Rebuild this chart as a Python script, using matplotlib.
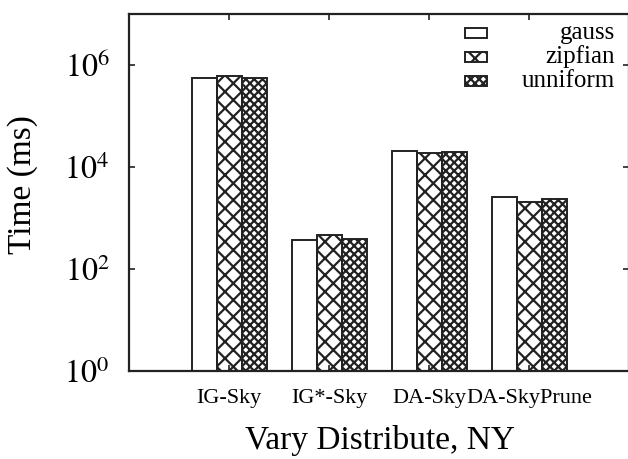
import matplotlib
matplotlib.use("Agg")
from matplotlib import pyplot as plt
from matplotlib.patches import Rectangle
import numpy as np

plt.rcParams['font.family'] = ['Liberation Serif', 'DejaVu Serif']
plt.rcParams['mathtext.fontset'] = 'stix'
plt.rcParams['hatch.linewidth'] = 1.6
plt.rcParams['hatch.color'] = '#222222'

methods = ["IG-Sky", "IG*-Sky", "DA-Sky", "DA-SkyPrune"]
series = ["gauss", "zipfian", "unniform"]
gauss = [5.6e5, 365, 2.06e4, 2620]
zipfian = [6.2e5, 465, 1.9e4, 2060]
uniform = [5.5e5, 387, 1.97e4, 2390]

hatches = ["", "xx", "xxxx"]
values = [gauss, zipfian, uniform]

fig = plt.figure(figsize=(6.28, 4.59), dpi=100)
ax = fig.add_axes([129/628, 1 - 371/459, 500/628, 357/459])

x = np.arange(len(methods))
w = 0.25
for i, (vals, h) in enumerate(zip(values, hatches)):
    ax.bar(x + (i - 1) * w, vals, width=w, bottom=1, fill=False,
           hatch=h, edgecolor="#222222", linewidth=1.4)

ax.set_yscale("log")
ax.set_ylim(1, 1e7)
ax.set_xlim(-1, 4)
ax.set_yticks([1, 1e2, 1e4, 1e6])
ax.set_yticklabels([r"$10^{0}$", r"$10^{2}$", r"$10^{4}$", r"$10^{6}$"], fontsize=23)
ax.minorticks_off()
ax.set_xticks(x)
ax.set_xticklabels(methods, fontsize=16)
ax.tick_params(direction="in", top=True, right=True, length=4, width=1.2, color="#222222")
ax.tick_params(axis="x", pad=13)
ax.tick_params(axis="y", pad=14)
for s in ax.spines.values():
    s.set_linewidth(1.6)
    s.set_color("#222222")

fig.text(23/628, 1 - 185/459, "Time (ms)", fontsize=24, rotation=90, ha="center", va="center")
fig.text(380/628, 1 - 440/459, "Vary Distribute, NY", fontsize=24, ha="center", va="center")

# gnuplot-style key: swatch on the left, right-aligned names
for i, (name, h) in enumerate(zip(series, hatches)):
    yc = 1 - (33 + 24 * i) / 459
    sw = Rectangle((465/628, yc - 5/459), 22/628, 10/459, transform=fig.transFigure,
                   fill=False, hatch=h, edgecolor="#222222", linewidth=1.4)
    fig.add_artist(sw)
    fig.text(615/628, yc, name, fontsize=18, ha="right", va="center")

plt.savefig("out.png", dpi=100)
